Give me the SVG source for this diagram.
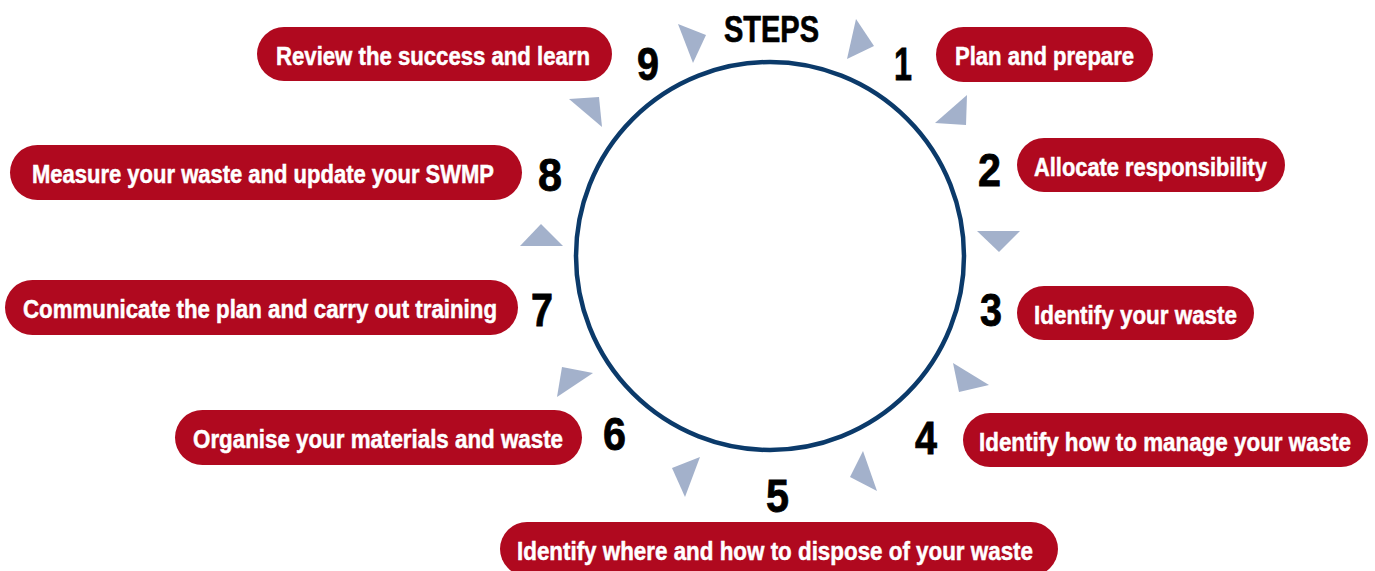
<svg xmlns="http://www.w3.org/2000/svg" width="1375" height="571" viewBox="0 0 1375 571">
  <style>
    .pill { fill: #b0091f; }
    .label { fill: #ffffff; stroke: #ffffff; stroke-width: 0.5px; font-family: "Liberation Sans", Arial, sans-serif; font-weight: bold; font-size: 26px; text-anchor: middle; }
    .num { fill: #000000; stroke: #000000; stroke-width: 0.8px; font-family: "Liberation Sans", Arial, sans-serif; font-weight: bold; font-size: 46px; text-anchor: middle; }
    .title { fill: #000000; stroke: #000000; stroke-width: 0.7px; font-family: "Liberation Sans", Arial, sans-serif; font-weight: bold; font-size: 37px; text-anchor: middle; }
    .arrow { fill: #a3b1cb; }
    .ring { fill: none; stroke: #0b3a6a; stroke-width: 4.5; }
  </style>
  <rect width="1375" height="571" fill="#ffffff"/>

  <!-- central cycle ring and title -->
  <g id="cycle">
    <circle class="ring" cx="770" cy="256" r="194"/>
    <text class="title" x="771.5" y="42" textLength="95" lengthAdjust="spacingAndGlyphs">STEPS</text>
  </g>

  <!-- arrowheads around the ring -->
  <g id="connectors">
    <polygon class="arrow" points="678,24 706,35 693,63"/>
    <polygon class="arrow" points="856,19 874,46 847,59"/>
    <polygon class="arrow" points="967,95 966,125 935,123"/>
    <polygon class="arrow" points="977,231 1020,231 999,252"/>
    <polygon class="arrow" points="953,363 989,385 959,392"/>
    <polygon class="arrow" points="863,451 877,491 850,477"/>
    <polygon class="arrow" points="700,457 685,497 672,468"/>
    <polygon class="arrow" points="562,367 593,373 557,397"/>
    <polygon class="arrow" points="520,246 563,246 541,224"/>
    <polygon class="arrow" points="569,99 599,97 602,127"/>
  </g>

  <g id="step1">
    <text class="num" x="903" y="80" textLength="18" lengthAdjust="spacingAndGlyphs">1</text>
    <rect class="pill" x="936" y="27" width="217" height="55" rx="27.5"/>
    <text class="label" x="1044.5" y="65" textLength="179" lengthAdjust="spacingAndGlyphs">Plan and prepare</text>
  </g>

  <g id="step2">
    <text class="num" x="989.5" y="186" textLength="23" lengthAdjust="spacingAndGlyphs">2</text>
    <rect class="pill" x="1017" y="138" width="268" height="54" rx="27"/>
    <text class="label" x="1150.5" y="176" textLength="233" lengthAdjust="spacingAndGlyphs">Allocate responsibility</text>
  </g>

  <g id="step3">
    <text class="num" x="991" y="326" textLength="22" lengthAdjust="spacingAndGlyphs">3</text>
    <rect class="pill" x="1017" y="286" width="237" height="54" rx="27"/>
    <text class="label" x="1135.5" y="324" textLength="203" lengthAdjust="spacingAndGlyphs">Identify your waste</text>
  </g>

  <g id="step4">
    <text class="num" x="926" y="454" textLength="22" lengthAdjust="spacingAndGlyphs">4</text>
    <rect class="pill" x="963" y="413" width="405" height="54" rx="27"/>
    <text class="label" x="1165" y="451" textLength="372" lengthAdjust="spacingAndGlyphs">Identify how to manage your waste</text>
  </g>

  <g id="step5">
    <text class="num" x="777.5" y="512" textLength="23" lengthAdjust="spacingAndGlyphs">5</text>
    <rect class="pill" x="500" y="522" width="558" height="54" rx="27"/>
    <text class="label" x="775" y="560" textLength="516" lengthAdjust="spacingAndGlyphs">Identify where and how to dispose of your waste</text>
  </g>

  <g id="step6">
    <text class="num" x="614.5" y="450" textLength="23" lengthAdjust="spacingAndGlyphs">6</text>
    <rect class="pill" x="175" y="410" width="407" height="55" rx="27.5"/>
    <text class="label" x="378" y="448" textLength="370" lengthAdjust="spacingAndGlyphs">Organise your materials and waste</text>
  </g>

  <g id="step7">
    <text class="num" x="542" y="326" textLength="22" lengthAdjust="spacingAndGlyphs">7</text>
    <rect class="pill" x="5" y="280" width="513" height="55" rx="27.5"/>
    <text class="label" x="260" y="318" textLength="474" lengthAdjust="spacingAndGlyphs">Communicate the plan and carry out training</text>
  </g>

  <g id="step8">
    <text class="num" x="550" y="191" textLength="24" lengthAdjust="spacingAndGlyphs">8</text>
    <rect class="pill" x="10" y="145" width="512" height="55" rx="27.5"/>
    <text class="label" x="263" y="183" textLength="462" lengthAdjust="spacingAndGlyphs">Measure your waste and update your SWMP</text>
  </g>

  <g id="step9">
    <text class="num" x="648" y="80" textLength="22" lengthAdjust="spacingAndGlyphs">9</text>
    <rect class="pill" x="257" y="27" width="355" height="54" rx="27"/>
    <text class="label" x="433" y="65" textLength="314" lengthAdjust="spacingAndGlyphs">Review the success and learn</text>
  </g>
</svg>
